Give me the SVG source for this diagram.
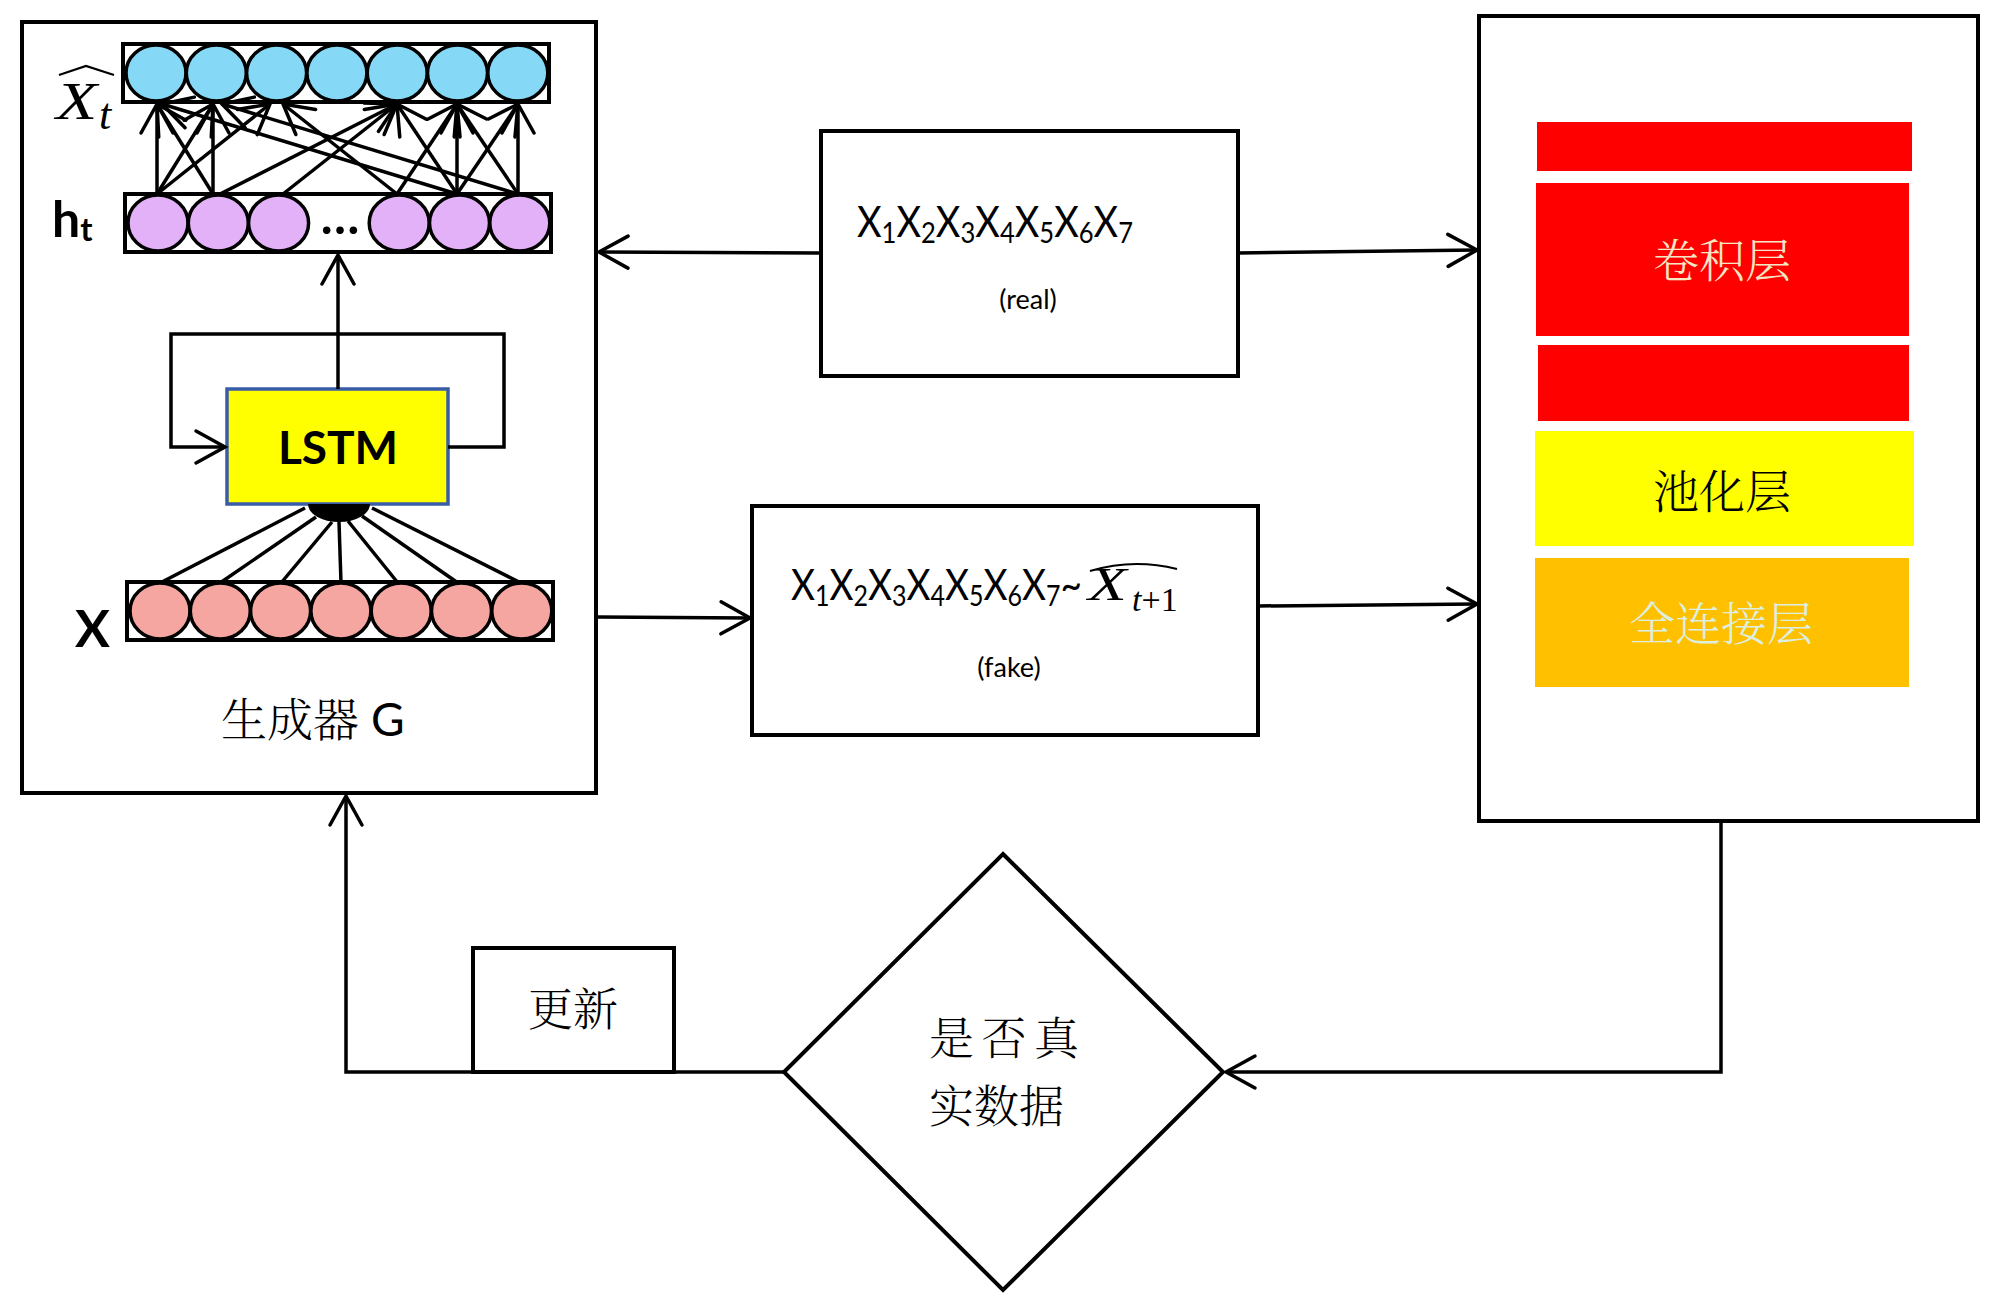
<svg xmlns="http://www.w3.org/2000/svg" width="1999" height="1312" viewBox="0 0 1999 1312">
<style>
.box{fill:#fff;stroke:#000;stroke-width:4}
.ln{fill:none;stroke:#000;stroke-width:3.5}
.nl{fill:none;stroke:#000;stroke-width:3.5}
.row{fill:#fff;stroke:#000;stroke-width:4}
.cb{fill:#86D9F6;stroke:#000;stroke-width:3.5}
.cp{fill:#E3B1F7;stroke:#000;stroke-width:3.5}
.cr{fill:#F6A6A0;stroke:#000;stroke-width:3.5}
.cjk{font-family:'Noto Serif CJK SC','Noto Sans CJK SC',serif;font-weight:300}
.lat{font-family:Lato,'Liberation Sans',sans-serif}
.mi{font-family:'Liberation Serif',serif;font-style:italic}
</style>
<defs>
<marker id="oa" viewBox="-34 -20 38 40" refX="0" refY="0" markerWidth="38" markerHeight="40" markerUnits="userSpaceOnUse" orient="auto">
<path d="M-29,-16 L0,0 L-29,16" fill="none" stroke="#000" stroke-width="3.5" stroke-linecap="round" stroke-linejoin="miter"/>
</marker>
</defs>
<rect width="1999" height="1312" fill="#fff"/>

<g id="generator">
<rect class="box" x="22" y="22" width="574" height="771"/>
<text class="cjk" x="221" y="736" font-size="46">生成器 <tspan class="lat" font-weight="400">G</tspan></text>
</g>

<g id="xhat-row">
<rect class="row" x="123" y="44" width="426" height="58"/>
<ellipse class="cb" cx="156" cy="73" rx="30" ry="28"/>
<ellipse class="cb" cx="216.3" cy="73" rx="30" ry="28"/>
<ellipse class="cb" cx="276.6" cy="73" rx="30" ry="28"/>
<ellipse class="cb" cx="336.9" cy="73" rx="30" ry="28"/>
<ellipse class="cb" cx="397.2" cy="73" rx="30" ry="28"/>
<ellipse class="cb" cx="457.5" cy="73" rx="30" ry="28"/>
<ellipse class="cb" cx="517.8" cy="73" rx="30" ry="28"/>
<text class="mi" x="0" y="0" font-size="52" transform="translate(56,119) scale(1.3,1)">X</text>
<text class="mi" x="99" y="129" font-size="44">t</text>
<path d="M59,75 L86,66 L114,75" fill="none" stroke="#000" stroke-width="2.2"/>
</g>

<g id="ht-row">
<rect class="row" x="125" y="194" width="426" height="58"/>
<ellipse class="cp" cx="158" cy="223" rx="30" ry="28"/>
<ellipse class="cp" cx="218.3" cy="223" rx="30" ry="28"/>
<ellipse class="cp" cx="278.6" cy="223" rx="30" ry="28"/>
<ellipse class="cp" cx="399.2" cy="223" rx="30" ry="28"/>
<ellipse class="cp" cx="459.5" cy="223" rx="30" ry="28"/>
<ellipse class="cp" cx="519.8" cy="223" rx="30" ry="28"/>
<text class="lat" x="340" y="234" font-size="50" font-weight="700" text-anchor="middle">…</text>
<text class="lat" x="52" y="237" font-size="50" font-weight="700">h<tspan font-size="33" dy="4">t</tspan></text>
</g>

<g id="lstm">
<rect x="227" y="389" width="221" height="115" fill="#FFFF00" stroke="#3A5CA8" stroke-width="3.5"/>
<text class="lat" x="338" y="464" font-size="46" font-weight="700" text-anchor="middle">LSTM</text>
<path d="M308,504 A31,18 0 0 0 370,504 Z" fill="#000"/>
</g>

<g id="x-row">
<rect class="row" x="127" y="582" width="426" height="58"/>
<ellipse class="cr" cx="160" cy="611" rx="30" ry="28"/>
<ellipse class="cr" cx="220.3" cy="611" rx="30" ry="28"/>
<ellipse class="cr" cx="280.6" cy="611" rx="30" ry="28"/>
<ellipse class="cr" cx="340.9" cy="611" rx="30" ry="28"/>
<ellipse class="cr" cx="401.2" cy="611" rx="30" ry="28"/>
<ellipse class="cr" cx="461.5" cy="611" rx="30" ry="28"/>
<ellipse class="cr" cx="521.8" cy="611" rx="30" ry="28"/>
<text class="lat" x="75" y="647" font-size="52" font-weight="700">X</text>
</g>

<g id="real">
<rect class="box" x="821" y="131" width="417" height="245"/>
<text class="lat" x="857" y="237" font-size="43" textLength="276" lengthAdjust="spacingAndGlyphs">X<tspan font-size="29" dy="6">1</tspan><tspan dy="-6">X</tspan><tspan font-size="29" dy="6">2</tspan><tspan dy="-6">X</tspan><tspan font-size="29" dy="6">3</tspan><tspan dy="-6">X</tspan><tspan font-size="29" dy="6">4</tspan><tspan dy="-6">X</tspan><tspan font-size="29" dy="6">5</tspan><tspan dy="-6">X</tspan><tspan font-size="29" dy="6">6</tspan><tspan dy="-6">X</tspan><tspan font-size="29" dy="6">7</tspan></text>
<text class="lat" x="1028" y="309" font-size="27" text-anchor="middle">(real)</text>
</g>

<g id="fake">
<rect class="box" x="752" y="506" width="506" height="229"/>
<text class="lat" x="791" y="600" font-size="43" textLength="291" lengthAdjust="spacingAndGlyphs">X<tspan font-size="29" dy="6">1</tspan><tspan dy="-6">X</tspan><tspan font-size="29" dy="6">2</tspan><tspan dy="-6">X</tspan><tspan font-size="29" dy="6">3</tspan><tspan dy="-6">X</tspan><tspan font-size="29" dy="6">4</tspan><tspan dy="-6">X</tspan><tspan font-size="29" dy="6">5</tspan><tspan dy="-6">X</tspan><tspan font-size="29" dy="6">6</tspan><tspan dy="-6">X</tspan><tspan font-size="29" dy="6">7</tspan><tspan dy="-6">~</tspan></text>
<text class="mi" x="0" y="0" font-size="47" transform="translate(1088,600) scale(1.35,1)">X</text>
<text x="1132" y="611" font-size="34" font-family="'Liberation Serif',serif"><tspan font-style="italic">t</tspan>+1</text>
<path d="M1090,571 Q1133,558 1177,569" fill="none" stroke="#000" stroke-width="2"/>
<text class="lat" x="1009" y="677" font-size="27" text-anchor="middle">(fake)</text>
</g>

<g id="discriminator">
<rect class="box" x="1479" y="16" width="499" height="805"/>
<rect x="1537" y="122" width="375" height="49" fill="#FF0000"/>
<rect x="1536" y="183" width="373" height="153" fill="#FF0000"/>
<rect x="1538" y="345" width="371" height="76" fill="#FF0000"/>
<rect x="1535" y="431" width="379" height="115" fill="#FFFF00"/>
<rect x="1535" y="558" width="374" height="129" fill="#FFC000"/>
<text class="cjk" x="1722" y="277" font-size="46" text-anchor="middle" fill="#F5E6C4">卷积层</text>
<text class="cjk" x="1722" y="508" font-size="46" text-anchor="middle" fill="#000">池化层</text>
<text class="cjk" x="1721" y="640" font-size="46" text-anchor="middle" fill="#DCEFE0">全连接层</text>
</g>

<g id="update">
<rect class="box" x="473" y="948" width="201" height="124"/>
<text class="cjk" x="573" y="1026" font-size="45" text-anchor="middle">更新</text>
</g>

<g id="decision">
<polygon points="1003,854 1223,1072 1003,1290 784,1072" fill="#fff" stroke="#000" stroke-width="4"/>
<text class="cjk" x="929" y="1055" font-size="45" textLength="150" lengthAdjust="spacing">是 否 真</text>
<text class="cjk" x="929" y="1123" font-size="45">实数据</text>
</g>

<g id="connectors">
<path class="ln" d="M821,253 L599,252" marker-end="url(#oa)"/>
<path class="ln" d="M1238,253 L1477,250" marker-end="url(#oa)"/>
<path class="ln" d="M598,617 L750,618" marker-end="url(#oa)"/>
<path class="ln" d="M1258,606 L1477,604" marker-end="url(#oa)"/>
<path class="ln" d="M1721,821 L1721,1072 L1226,1072" marker-end="url(#oa)"/>
<path class="ln" d="M784,1072 L346,1072 L346,796" marker-end="url(#oa)"/>
<path class="ln" d="M338,389 L338,255" marker-end="url(#oa)"/>
<path class="ln" d="M448,447 L504,447 L504,334 L171,334 L171,447 L225,447" marker-end="url(#oa)"/>
<g id="dense">
<path class="nl" d="M157,194 L157,104" marker-end="url(#oa)"/>
<path class="nl" d="M213,194 L213,104" marker-end="url(#oa)"/>
<path class="nl" d="M457,194 L457,104" marker-end="url(#oa)"/>
<path class="nl" d="M518,194 L518,104" marker-end="url(#oa)"/>
<path class="nl" d="M157,194 L213,104" marker-end="url(#oa)"/>
<path class="nl" d="M213,194 L157,104" marker-end="url(#oa)"/>
<path class="nl" d="M157,194 L270,104" marker-end="url(#oa)"/>
<path class="nl" d="M220,194 L397,104" marker-end="url(#oa)"/>
<path class="nl" d="M283,194 L397,104" marker-end="url(#oa)"/>
<path class="nl" d="M397,194 L283,104" marker-end="url(#oa)"/>
<path class="nl" d="M457,194 L162,104" marker-end="url(#oa)"/>
<path class="nl" d="M518,194 L222,104" marker-end="url(#oa)"/>
<path class="nl" d="M457,194 L397,104" marker-end="url(#oa)"/>
<path class="nl" d="M457,194 L518,104" marker-end="url(#oa)"/>
<path class="nl" d="M518,194 L457,104" marker-end="url(#oa)"/>
<path class="nl" d="M397,194 L457,104" marker-end="url(#oa)"/>
</g>
<g id="fan">
<path class="nl" d="M305,508 L160,583"/>
<path class="nl" d="M316,517 L220,583"/>
<path class="nl" d="M332,522 L281,583"/>
<path class="nl" d="M339,522 L341,583"/>
<path class="nl" d="M348,521 L398,583"/>
<path class="nl" d="M362,516 L458,583"/>
<path class="nl" d="M372,508 L521,583"/>
</g>
</g>
</svg>
